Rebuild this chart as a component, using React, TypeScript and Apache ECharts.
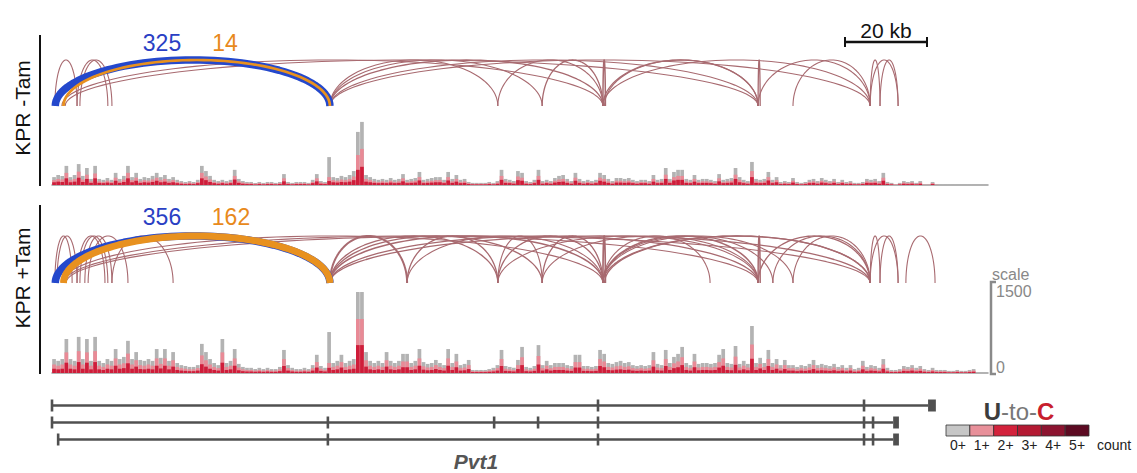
import { useEffect, useRef } from "react";
import * as echarts from "echarts";

// ---------- genomic axis (kb) ----------
const X_MAX = 228; // kb shown in each track
const COV_MAX = 1500; // scale bar

// ---------- junctions: [start kb, end kb, reads] ----------
const TOP_MAIN = [[0.8, 67.7, 325]];
const TOP_ALT = [[2.8, 67.7, 14]];
const TOP_OTHER = [
  [0.7, 6.1, 1], [6.1, 13.6, 1], [6.8, 14.6, 1], [2.4, 134.2, 1], [3.2, 172.0, 1],
  [67.7, 108.6, 1], [67.7, 119.4, 1], [67.7, 134.2, 2], [67.7, 172.0, 1], [67.7, 199.3, 1],
  [108.6, 134.2, 1], [119.4, 134.2, 2], [134.2, 134.8, 3], [134.2, 172.0, 2], [134.6, 172.0, 1],
  [134.2, 199.3, 1], [172.0, 172.5, 2], [172.0, 199.3, 1], [180.5, 199.3, 1],
  [199.3, 201.7, 1], [199.3, 206.1, 1], [201.7, 206.1, 1],
];
const BOT_MAIN = [[0.8, 67.7, 356]];
const BOT_ALT = [[2.8, 67.7, 162]];
const BOT_OTHER = [
  [0.7, 4.9, 1], [1.2, 6.1, 1], [6.1, 12.9, 1], [6.8, 13.6, 1], [8.0, 14.6, 1], [8.8, 18.5, 1],
  [14.6, 29.5, 1], [2.4, 134.2, 1], [2.9, 172.0, 1], [3.4, 199.3, 1],
  [67.7, 86.5, 6], [67.7, 108.6, 2], [67.7, 119.4, 2], [67.7, 134.2, 3], [67.7, 172.0, 2], [67.7, 199.3, 2],
  [86.5, 108.6, 2], [86.5, 134.2, 1], [108.6, 134.2, 2], [108.6, 119.4, 1], [119.4, 134.2, 2],
  [119.4, 172.0, 1], [108.6, 172.0, 1],
  [134.2, 134.8, 4], [134.2, 160.3, 1], [134.2, 172.0, 3], [134.2, 199.3, 2], [134.6, 199.3, 2],
  [134.2, 175.6, 1], [134.2, 180.5, 1],
  [172.0, 172.5, 3], [172.0, 199.3, 2], [175.6, 199.3, 1], [180.5, 199.3, 1],
  [199.3, 201.7, 1], [199.3, 206.1, 1], [201.7, 206.1, 1], [208.0, 215.1, 1],
];

// ---------- coverage, 1 kb bins (reads) ----------
const TOP_TOTAL = [
  130,165,150,315,130,165,345,150,280,100,315,100,
  85,115,85,200,100,150,315,130,200,100,130,115,
  150,200,130,165,100,130,85,65,50,65,50,85,
  315,230,150,85,65,85,65,85,250,100,65,50,
  50,35,50,35,50,50,35,50,180,50,35,50,
  50,50,35,85,180,65,50,460,
  130,115,150,130,165,230,875,1040,
  165,130,100,85,
  100,85,115,85,100,180,85,100,115,215,85,100,115,130,130,85,215,100,165,85,
  100,50,35,35,35,35,50,35,65,250,
  100,85,65,230,200,65,50,85,250,65,
  85,65,115,150,165,100,65,200,100,65,
  85,65,85,200,165,100,65,115,115,100,
  115,85,65,85,85,65,165,85,100,280,
  100,215,250,250,100,85,165,85,100,100,
  85,65,180,85,100,115,280,130,85,65,
  380,100,85,100,215,85,130,50,65,50,
  115,50,35,50,85,100,65,115,85,65,
  100,50,85,50,65,35,35,50,100,85,
  100,65,200,50,35,15,35,65,50,65,
  35,65,15,15,50,15,15,15,15,15,15,15,15,15,15,15,15,15,
];
const TOP_UC1 = [
  80,100,90,200,80,100,220,90,170,60,190,60,
  50,70,50,120,60,90,200,80,120,60,80,70,
  90,120,80,100,60,80,50,40,30,40,30,50,
  200,140,90,50,40,50,40,50,150,60,40,30,
  30,20,30,20,30,30,20,30,110,30,20,30,
  30,30,20,50,110,40,30,130,
  80,70,90,80,100,140,495,595,
  100,80,60,50,
  60,50,70,50,60,110,50,60,70,130,50,60,70,80,80,50,130,60,100,50,
  60,30,20,20,20,20,30,20,40,150,
  60,50,40,140,120,40,30,50,150,40,
  50,40,70,90,100,60,40,120,60,40,
  50,40,50,120,100,60,40,70,70,60,
  70,50,40,50,50,40,100,50,60,170,
  60,130,150,150,60,50,100,50,60,60,
  50,40,110,50,60,70,170,80,50,40,
  230,60,50,60,130,50,80,30,40,30,
  70,30,20,30,50,60,40,70,50,40,
  60,30,50,30,40,20,20,30,60,50,
  60,40,120,30,20,10,20,40,30,40,
  20,40,5,5,30,5,0,0,0,0,0,0,0,0,0,0,0,0,
];
const TOP_UC2 = [
  45,55,50,110,45,55,120,50,100,35,110,35,
  30,40,30,70,35,50,110,45,70,35,45,40,
  50,70,45,55,35,45,30,20,15,20,15,30,
  110,80,50,30,20,30,20,30,90,35,20,15,
  15,10,15,10,15,15,10,15,60,15,10,15,
  15,15,10,30,60,20,15,65,
  45,40,50,45,55,80,250,300,
  55,45,35,30,
  35,30,40,30,35,60,30,35,40,75,30,35,40,45,45,30,75,35,55,30,
  35,15,10,10,10,10,15,10,20,85,
  35,30,20,80,70,20,15,30,85,20,
  30,20,40,50,55,35,20,70,35,20,
  30,20,30,70,55,35,20,40,40,35,
  40,30,20,30,30,20,55,30,35,100,
  35,75,85,85,35,30,55,30,35,35,
  30,20,60,30,35,40,100,45,30,20,
  130,35,30,35,75,30,45,15,20,15,
  40,15,10,15,30,35,20,40,30,20,
  35,15,30,15,20,10,10,15,35,30,
  35,20,70,15,10,0,10,20,15,20,
  10,20,0,0,15,0,0,0,0,0,0,0,0,0,0,0,0,0,
];
const BOT_TOTAL = [
  230,200,230,560,230,200,595,230,560,200,595,200,
  165,230,200,395,230,265,530,230,345,215,200,230,
  200,395,250,395,200,345,165,130,115,100,100,130,
  480,345,230,165,130,560,165,200,395,150,100,85,
  85,65,85,65,85,65,65,100,380,130,85,65,
  65,85,65,130,300,115,85,675,
  165,200,300,165,200,230,1335,1335,
  345,200,165,200,
  165,345,200,165,200,315,315,165,200,395,180,150,165,215,165,130,395,165,315,130,
  150,215,50,50,50,50,65,85,130,380,
  115,100,85,215,430,100,85,115,460,130,
  200,130,165,165,165,130,115,300,300,115,
  115,100,115,380,315,165,150,180,200,165,
  180,130,115,130,115,130,345,150,130,380,
  165,265,315,430,165,130,315,150,165,165,
  150,165,300,395,165,150,445,150,200,150,
  775,165,250,165,380,165,230,130,215,130,
  130,100,130,115,150,215,130,150,130,115,
  150,100,130,85,130,65,85,200,100,130,
  115,85,230,85,50,50,65,115,100,130,
  85,115,65,50,85,50,50,50,35,35,50,35,35,50,65,15,15,15,
];
const BOT_UC1 = [
  140,120,140,340,140,120,360,140,340,120,360,120,
  100,140,120,240,140,160,320,140,210,130,120,140,
  120,240,150,240,120,210,100,80,70,60,60,80,
  290,210,140,100,80,340,100,120,240,90,60,50,
  50,40,50,40,50,40,40,60,230,80,50,40,
  40,50,40,80,180,70,50,165,
  100,120,180,100,120,140,890,890,
  210,120,100,120,
  100,210,120,100,120,190,190,100,120,240,110,90,100,130,100,80,240,100,190,80,
  90,130,30,30,30,30,40,50,80,230,
  70,60,50,130,260,60,50,70,280,80,
  120,80,100,100,100,80,70,180,180,70,
  70,60,70,230,190,100,90,110,120,100,
  110,80,70,80,70,80,210,90,80,230,
  100,160,190,260,100,80,190,90,100,100,
  90,100,180,240,100,90,270,90,120,90,
  470,100,150,100,230,100,140,80,130,80,
  80,60,80,70,90,130,80,90,80,70,
  90,60,80,50,80,40,50,120,60,80,
  70,50,140,50,30,30,40,70,60,80,
  50,70,40,30,50,30,30,30,20,20,30,20,20,30,40,0,0,0,
];
const BOT_UC2 = [
  70,60,70,170,70,60,180,70,170,60,180,60,
  50,70,60,120,70,80,160,70,105,65,60,70,
  60,120,75,120,60,105,50,40,35,30,30,40,
  145,105,70,50,40,170,50,60,120,45,30,25,
  25,20,25,20,25,20,20,30,115,40,25,20,
  20,25,20,40,90,35,25,85,
  50,60,90,50,60,70,460,460,
  105,60,50,60,
  50,105,60,50,60,95,95,50,60,120,55,45,50,65,50,40,120,50,95,40,
  45,65,15,15,15,15,20,25,40,115,
  35,30,25,65,130,30,25,35,140,40,
  60,40,50,50,50,40,35,90,90,35,
  35,30,35,115,95,50,45,55,60,50,
  55,40,35,40,35,40,105,45,40,115,
  50,80,95,130,50,40,95,45,50,50,
  45,50,90,120,50,45,135,45,60,45,
  235,50,75,50,115,50,70,40,65,40,
  40,30,40,35,45,65,40,45,40,35,
  45,30,40,25,40,20,25,60,30,40,
  35,25,70,25,15,15,20,35,30,40,
  25,35,20,15,25,15,15,15,10,10,15,10,10,15,20,0,0,0,
];

// ---------- gene models (kb) ----------
const TRANSCRIPTS = [
  { row: 2.5, start: 0, exons: [0, 133.0, 197.8], last: [213.4, 215.3] },
  { row: 1.5, start: 0, exons: [0, 67.2, 107.7, 118.4, 133.0, 197.8, 200.0], last: [204.9, 206.3] },
  { row: 0.5, start: 1.5, exons: [1.5, 67.2, 133.0, 197.8, 200.0], last: [204.9, 206.3] },
];

// ---------- legend ----------
const UC_LEVELS = ["0+", "1+", "2+", "3+", "4+", "5+"];
const UC_COLORS = ["#c6c6c6", "#e8909a", "#d3223c", "#b41a33", "#8c1430", "#5c0a22"];

const FONT = '"Liberation Sans", Arial, Helvetica, sans-serif';
const BROWN = "#a86a70";
const BLUE = "#2448cc";
const ORANGE = "#e8911f";

const arcWidth = (c: number) => Math.min(7.5, Math.max(1.1, Math.pow(c, 0.38)));

function arcSeries(data: number[][], color: string, idx: number) {
  return {
    type: "custom",
    xAxisIndex: idx,
    yAxisIndex: idx,
    silent: true,
    clip: false,
    dimensions: ["start", "end", "reads"],
    encode: { x: [0, 1] },
    data,
    renderItem: (params: any, api: any) => {
      const x1 = api.value(0);
      const x2 = api.value(1);
      const c = api.value(2);
      const p1 = api.coord([x1, 0]);
      const p2 = api.coord([x2, 0]);
      const top = api.coord([x1, 1])[1];
      const cx = (p1[0] + p2[0]) / 2;
      const rx = (p2[0] - p1[0]) / 2;
      const ry = p1[1] - top;
      const pts: number[][] = [];
      const n = 60;
      for (let k = 0; k <= n; k++) {
        const t = (Math.PI * k) / n;
        pts.push([cx - rx * Math.cos(t), p1[1] - ry * Math.sin(t)]);
      }
      return {
        type: "polyline",
        shape: { points: pts },
        style: { stroke: color, lineWidth: arcWidth(c), fill: "none", lineJoin: "round" },
      };
    },
  };
}

function covSeries(values: number[], color: string, idx: number) {
  return {
    type: "bar",
    xAxisIndex: idx,
    yAxisIndex: idx,
    silent: true,
    barWidth: 3.7,
    barGap: "-100%",
    itemStyle: { color },
    data: values.map((v, i) => [i + 0.5, v]),
  };
}

export default function App() {
  const ref = useRef<HTMLDivElement>(null);
  useEffect(() => {
    if (!ref.current) return;
    const chart = echarts.init(ref.current, null, { renderer: "svg" });
    const gridDefs = [
      { left: 52, width: 936, top: 60, height: 46 },
      { left: 52, width: 936, top: 94, height: 91 },
      { left: 52, width: 936, top: 236, height: 47 },
      { left: 52, width: 936, top: 282, height: 91 },
      { left: 52, width: 936, top: 397, height: 51 },
    ];
    const xAxis = gridDefs.map((_, i) => ({
      type: "value",
      gridIndex: i,
      min: 0,
      max: X_MAX,
      show: i === 1 || i === 3,
      axisLine: { show: true, onZero: false, lineStyle: { color: "#9a9a9a", width: 1.5 } },
      axisTick: { show: false },
      axisLabel: { show: false },
      splitLine: { show: false },
    }));
    const yMax = [1, COV_MAX, 1, COV_MAX, 3];
    const yAxis = gridDefs.map((_, i) => ({
      type: "value",
      gridIndex: i,
      min: 0,
      max: yMax[i],
      show: false,
      splitLine: { show: false },
    }));

    const geneSeries = {
      type: "custom",
      xAxisIndex: 4,
      yAxisIndex: 4,
      silent: true,
      clip: false,
      data: TRANSCRIPTS.map((t, i) => [t.start, t.row, i]),
      renderItem: (params: any, api: any) => {
        const t = TRANSCRIPTS[params.dataIndex];
        const y = api.coord([0, t.row])[1];
        const xs = api.coord([t.start, t.row])[0];
        const b0 = api.coord([t.last[0], t.row])[0];
        const b1 = api.coord([t.last[1], t.row])[0];
        const col = "#505050";
        const children: any[] = [
          { type: "line", shape: { x1: xs, y1: y, x2: b0, y2: y }, style: { stroke: col, lineWidth: 2.3 } },
          { type: "rect", shape: { x: b0, y: y - 6, width: b1 - b0, height: 12 }, style: { fill: col } },
        ];
        t.exons.forEach((e) => {
          const ex = api.coord([e, t.row])[0];
          children.push({
            type: "line",
            shape: { x1: ex, y1: y - 6, x2: ex, y2: y + 6 },
            style: { stroke: col, lineWidth: 2.6 },
          });
        });
        return { type: "group", children };
      },
    };

    const cellW = 143 / UC_LEVELS.length;
    const legendCells: any[] = [];
    UC_LEVELS.forEach((lab, i) => {
      legendCells.push({
        type: "rect",
        shape: { x: 946 + i * cellW, y: 425, width: cellW, height: 11 },
        style: { fill: UC_COLORS[i], stroke: "#333", lineWidth: 0.8 },
      });
      legendCells.push({
        type: "text",
        x: 946 + i * cellW + cellW / 2,
        y: 445,
        style: { text: lab, fontSize: 14, fontFamily: FONT, fill: "#222", align: "center", verticalAlign: "middle" },
      });
    });

    const txt = (text: string, x: number, y: number, size: number, fill: string, extra: any = {}) => ({
      type: "text",
      x,
      y,
      ...(extra.rotation !== undefined ? { rotation: extra.rotation } : {}),
      style: {
        text,
        fontSize: size,
        fontFamily: FONT,
        fill,
        align: extra.align || "center",
        verticalAlign: "middle",
        fontWeight: extra.fontWeight || "normal",
        fontStyle: extra.fontStyle || "normal",
      },
    });

    chart.setOption({
      animation: false,
      grid: gridDefs,
      xAxis,
      yAxis,
      series: [
        arcSeries(TOP_OTHER, BROWN, 0),
        arcSeries(TOP_MAIN, BLUE, 0),
        arcSeries(TOP_ALT, ORANGE, 0),
        covSeries(TOP_TOTAL, "#b3b3b3", 1),
        covSeries(TOP_UC1, "#e98a96", 1),
        covSeries(TOP_UC2, "#cf1d3a", 1),
        arcSeries(BOT_OTHER, BROWN, 2),
        arcSeries(BOT_MAIN, BLUE, 2),
        arcSeries(BOT_ALT, ORANGE, 2),
        covSeries(BOT_TOTAL, "#b3b3b3", 3),
        covSeries(BOT_UC1, "#e98a96", 3),
        covSeries(BOT_UC2, "#cf1d3a", 3),
        geneSeries,
      ],
      graphic: [
        { type: "line", shape: { x1: 40, y1: 35, x2: 40, y2: 186 }, style: { stroke: "#111", lineWidth: 2 } },
        { type: "line", shape: { x1: 40, y1: 205, x2: 40, y2: 374 }, style: { stroke: "#111", lineWidth: 2 } },
        txt("KPR -Tam", 22, 108, 21, "#111", { rotation: Math.PI / 2 }),
        txt("KPR +Tam", 22, 278, 21, "#111", { rotation: Math.PI / 2 }),
        txt(String(TOP_MAIN[0][2]), 162, 43, 23, "#2a3fc4"),
        txt(String(TOP_ALT[0][2]), 225, 43, 23, "#e8891c"),
        txt(String(BOT_MAIN[0][2]), 162, 217, 23, "#2a3fc4"),
        txt(String(BOT_ALT[0][2]), 231, 217, 23, "#e8891c"),
        // 20 kb scale bar
        { type: "line", shape: { x1: 845, y1: 42, x2: 927, y2: 42 }, style: { stroke: "#111", lineWidth: 2.5 } },
        { type: "line", shape: { x1: 845, y1: 37, x2: 845, y2: 47 }, style: { stroke: "#111", lineWidth: 2 } },
        { type: "line", shape: { x1: 927, y1: 37, x2: 927, y2: 47 }, style: { stroke: "#111", lineWidth: 2 } },
        txt("20 kb", 886, 30, 21, "#111"),
        // coverage scale
        txt("scale", 992, 274, 16, "#888", { align: "left" }),
        {
          type: "polyline",
          shape: { points: [[996, 282], [991, 282], [991, 374], [996, 374]] },
          style: { stroke: "#8a8a8a", lineWidth: 2.5, fill: "none" },
        },
        txt(String(COV_MAX), 996, 291, 16, "#888", { align: "left" }),
        txt("0", 996, 367, 16, "#888", { align: "left" }),
        // gene name
        txt("Pvt1", 476, 461, 21, "#555", { fontWeight: "bold", fontStyle: "italic" }),
        // legend
        {
          type: "text",
          x: 1019,
          y: 411,
          style: {
            text: "{u|U}{t|-to-}{c|C}",
            align: "center",
            verticalAlign: "middle",
            rich: {
              u: { fontSize: 24, fontWeight: "bold", fontFamily: FONT, fill: "#3c3c3c" },
              t: { fontSize: 24, fontFamily: FONT, fill: "#777" },
              c: { fontSize: 24, fontWeight: "bold", fontFamily: FONT, fill: "#c81e2e" },
            },
          },
        },
        ...legendCells,
        txt("count", 1097, 445, 14, "#222", { align: "left" }),
      ],
    });
    return () => chart.dispose();
  }, []);
  return (
    <div
      ref={ref}
      style={{ position: "fixed", left: 0, top: 0, width: 1137, height: 473, background: "#fff" }}
    />
  );
}
